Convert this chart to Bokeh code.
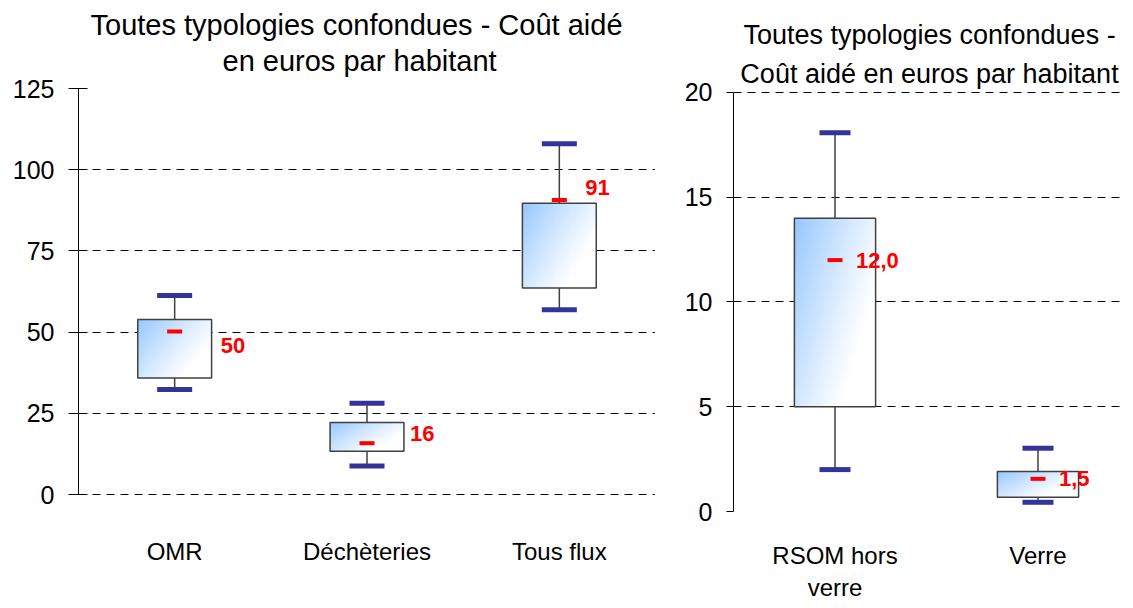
import numpy as np
from bokeh.plotting import figure
from bokeh.layouts import row
from bokeh.models import Range1d, FixedTicker, ColumnDataSource, Title
from bokeh.core.properties import value
from bokeh.embed import file_html
from bokeh.resources import INLINE

# ---------------- data ----------------
left_categories = ["OMR", "Déchèteries", "Tous flux"]
left_whisker_low = [32.3, 8.8, 56.9]
left_q1 = [35.9, 13.3, 63.6]
left_q3 = [53.9, 22.2, 89.7]
left_whisker_high = [61.3, 28.1, 108.0]
left_median = [50.2, 15.8, 90.7]
left_labels = ["50", "16", "91"]
left_yticks = [0, 25, 50, 75, 100, 125]
left_title = ["Toutes typologies confondues - Coût aidé", "en euros par habitant"]

right_categories = ["RSOM hors\nverre", "Verre"]
right_whisker_low = [2.0, 0.44]
right_q1 = [5.0, 0.68]
right_q3 = [14.0, 1.91]
right_whisker_high = [18.08, 3.02]
right_median = [12.0, 1.56]
right_labels = ["12,0", "1,5"]
right_yticks = [0, 5, 10, 15, 20]
right_title = ["Toutes typologies confondues -", "Coût aidé en euros par habitant"]

FONT = "Liberation Sans"


def gradient_rgba(nx=60, ny=60):
    xn = np.linspace(0, 1, nx)[None, :]
    yt = np.linspace(1, 0, ny)[:, None]  # row 0 = bottom
    t = 0.6 * xn + 0.4 * yt
    f = np.clip(1 - t / 0.75, 0, 1) ** 1.1
    blue = np.array([150, 200, 255], dtype=float)
    white = np.array([255, 255, 255], dtype=float)
    col = white[None, None, :] + (blue - white)[None, None, :] * f[:, :, None]
    img = np.empty((ny, nx), dtype=np.uint32)
    view = img.view(dtype=np.uint8).reshape((ny, nx, 4))
    view[:, :, 0] = col[:, :, 0].astype(np.uint8)
    view[:, :, 1] = col[:, :, 1].astype(np.uint8)
    view[:, :, 2] = col[:, :, 2].astype(np.uint8)
    view[:, :, 3] = 255
    return img


def make_box_chart(title_lines, title_size, title_standoffs, title_align, title_offsets, spacer,
                   cats, wlo, q1, q3, whi, med, labels, yticks, yrange,
                   width, half, cap_size, tick_out, tick_in, label_standoff, xend,
                   label_dx, label_dy):
    n = len(cats)
    pos = [i + 0.5 for i in range(n)]
    p = figure(width=width, height=603, output_backend="svg", toolbar_location=None,
               x_range=Range1d(0, xend), y_range=Range1d(*yrange),
               min_border_left=78, min_border_right=0,
               min_border_top=88, min_border_bottom=89,
               title=None)
    p.outline_line_color = None
    p.background_fill_color = "white"

    # title lines, stacked from the plot outward (spacer first)
    if spacer > 0:
        p.add_layout(Title(text=" ", text_font_size="1px", standoff=spacer), "above")
    for line, so, off in zip(reversed(title_lines), reversed(title_standoffs), reversed(title_offsets)):
        p.add_layout(Title(text=line, align=title_align, offset=off, text_font=FONT,
                           text_font_size=title_size, text_font_style="normal",
                           text_color="black", standoff=so), "above")

    # grid
    p.xgrid.grid_line_color = None
    p.ygrid.ticker = FixedTicker(ticks=yticks)
    p.ygrid.grid_line_color = "black"
    p.ygrid.grid_line_dash = "8 6"
    p.ygrid.grid_line_width = 1

    # y axis
    yax = p.yaxis[0]
    yax.ticker = FixedTicker(ticks=yticks)
    yax.bounds = (yticks[0], yticks[-1])
    yax.axis_line_color = "black"
    yax.major_tick_line_color = "black"
    yax.major_tick_out = tick_out
    yax.major_tick_in = tick_in
    yax.minor_tick_line_color = None
    yax.major_label_text_font = FONT
    yax.major_label_text_font_size = "25px"
    yax.major_label_text_color = "black"
    yax.major_label_standoff = 14

    # x axis
    xax = p.xaxis[0]
    xax.ticker = FixedTicker(ticks=pos)
    xax.major_label_overrides = {pos[i]: cats[i] for i in range(n)}
    xax.axis_line_color = None
    xax.major_tick_line_color = None
    xax.minor_tick_line_color = None
    xax.major_label_text_font = FONT
    xax.major_label_text_font_size = "24px"
    xax.major_label_text_color = "black"
    xax.major_label_standoff = label_standoff

    src = ColumnDataSource(dict(
        x=pos, left=[c - half for c in pos], right=[c + half for c in pos],
        wlo=wlo, q1=q1, q3=q3, whi=whi, med=med,
        h=[b - a for a, b in zip(q1, q3)], w=[2 * half] * n,
        img=[gradient_rgba() for _ in range(n)],
        label=labels, dx=label_dx, dy=label_dy,
    ))

    p.segment(x0="x", y0="q3", x1="x", y1="whi", source=src, line_color="#404040", line_width=1.5)
    p.segment(x0="x", y0="wlo", x1="x", y1="q1", source=src, line_color="#404040", line_width=1.5)
    p.image_rgba(image="img", x="left", y="q1", dw="w", dh="h", source=src)
    p.quad(left="left", right="right", bottom="q1", top="q3", source=src,
           fill_color=None, line_color="#404040", line_width=1.5)
    p.scatter(x="x", y="whi", source=src, marker="dash", size=cap_size,
              line_color="#333399", line_width=5)
    p.scatter(x="x", y="wlo", source=src, marker="dash", size=cap_size,
              line_color="#333399", line_width=5)
    p.scatter(x="x", y="med", source=src, marker="dash", size=15,
              line_color="#FF0000", line_width=4)
    p.text(x="x", y="med", text="label", source=src, x_offset="dx", y_offset="dy",
           text_font=value(FONT), text_font_size="22px", text_font_style="bold",
           text_color="#FF0000", text_align="left", text_baseline="middle")
    return p


# frames of both charts share top (88px) and bottom (511px) in the row layout;
# the left scale puts 0 at 494px, so its range extends a little below zero.
p1 = make_box_chart(left_title, "29px", [2, 2], "left", [12, 144], 8,
                    left_categories, left_whisker_low, left_q1, left_q3, left_whisker_high,
                    left_median, left_labels, left_yticks, (-5.23, 125),
                    width=655, half=0.192, cap_size=35, tick_out=10, tick_in=9,
                    label_standoff=20, xend=3,
                    label_dx=[46, 43, 26], label_dy=[14, -10, -12])

p2 = make_box_chart(right_title, "27px", [13, 0], "center", [0, 0], 0,
                    right_categories, right_whisker_low, right_q1, right_q3, right_whisker_high,
                    right_median, right_labels, right_yticks, (0, 20.19),
                    width=470, half=0.2, cap_size=31, tick_out=7, tick_in=0,
                    label_standoff=24, xend=392 / 203,
                    label_dx=[21, 21], label_dy=[0, 0])

layout = row(p1, p2)
open("out.html", "w").write(file_html(layout, INLINE))
